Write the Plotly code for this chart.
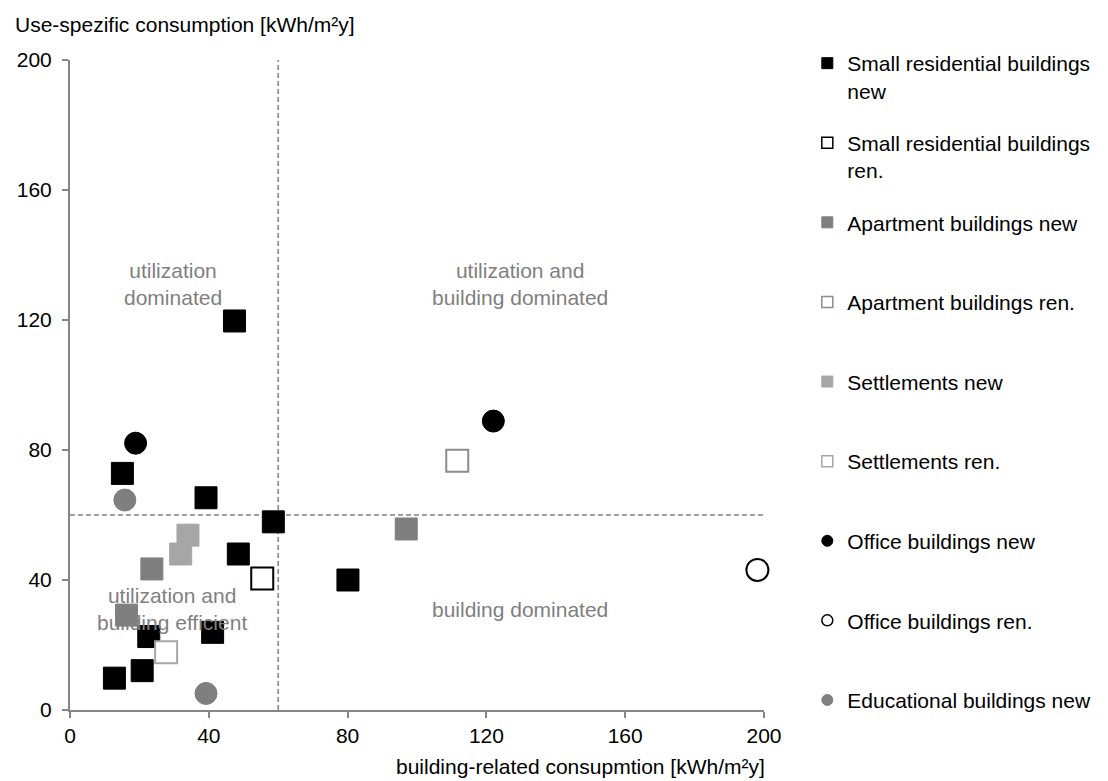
import plotly.graph_objects as go

# ---------------- data ----------------
small_res_new_x = [47.4, 15.1, 39.2, 58.6, 48.5, 80.1, 22.7, 41.1, 20.8, 12.8]
small_res_new_y = [119.7, 72.8, 65.3, 57.9, 48.0, 40.0, 22.6, 23.9, 12.1, 9.8]
small_res_ren_x = [55.4]
small_res_ren_y = [40.5]
apartment_new_x = [23.6, 16.3, 96.9]
apartment_new_y = [43.4, 29.2, 55.7]
apartment_ren_x = [111.6]
apartment_ren_y = [76.7]
settlements_new_x = [34.0, 31.9]
settlements_new_y = [53.8, 48.0]
settlements_ren_x = [27.7]
settlements_ren_y = [17.8]
office_new_x = [18.9, 122.0]
office_new_y = [82.1, 88.9]
office_ren_x = [198.1]
office_ren_y = [43.1]
educational_new_x = [15.8, 39.2]
educational_new_y = [64.6, 5.1]

threshold_x = 60
threshold_y = 60
axis_min = 0
axis_max = 200
tick_values = [0, 40, 80, 120, 160, 200]

x_title = "building-related consupmtion [kWh/m²y]"
y_title = "Use-spezific consumption [kWh/m²y]"
quadrant_labels = [
    ("utilization<br>dominated", 29.8, 131.0),
    ("utilization and<br>building dominated", 129.6, 131.0),
    ("building dominated", 129.6, 31.0),
    ("utilization and<br>building efficient", 29.5, 31.0),
]

# ---------------- styles ----------------
BLACK = "#000000"
GRAY = "#7F7F7F"
LIGHT = "#A6A6A6"
AXIS = "#868686"
FONT = "Liberation Sans, Arial, sans-serif"
FS = 21
PW, PH, PL, PT = 705, 650, 70, 60   # plot area size / offsets (px)

NB = "<br>\u00a0"
series = [
    ("Small residential buildings<br>new", small_res_new_x, small_res_new_y,
     "square", BLACK, BLACK, 1, "legend"),
    ("Small residential buildings<br>ren.", small_res_ren_x, small_res_ren_y,
     "square", "#FFFFFF", BLACK, 2, "legend"),
    ("Apartment buildings new" + NB, apartment_new_x, apartment_new_y,
     "square", GRAY, GRAY, 1, "legend"),
    ("Apartment buildings ren." + NB, apartment_ren_x, apartment_ren_y,
     "square", "#FFFFFF", "#8C8C8C", 2, "legend"),
    ("Settlements new", settlements_new_x, settlements_new_y,
     "square", LIGHT, LIGHT, 1, "legend"),
    ("Settlements ren." + NB, settlements_ren_x, settlements_ren_y,
     "square", "#FFFFFF", LIGHT, 2, "legend2"),
    ("Office buildings new" + NB, office_new_x, office_new_y,
     "circle", BLACK, BLACK, 1, "legend2"),
    ("Office buildings ren." + NB, office_ren_x, office_ren_y,
     "circle", "#FFFFFF", BLACK, 2, "legend2"),
    ("Educational buildings new", educational_new_x, educational_new_y,
     "circle", GRAY, GRAY, 1, "legend2"),
]

fig = go.Figure()

# threshold dashed lines
for xs, ys in (([axis_min, axis_max], [threshold_y, threshold_y]),
               ([threshold_x, threshold_x], [axis_min, axis_max])):
    fig.add_trace(go.Scatter(
        x=xs, y=ys, mode="lines",
        line=dict(color="#808080", width=1.5, dash="5px,3px"),
        showlegend=False, hoverinfo="skip"))

# data markers
for name, xs, ys, sym, fill, edge, lw, lg in series:
    fig.add_trace(go.Scatter(
        x=xs, y=ys, mode="markers", name=name.replace(NB, ""),
        showlegend=False, cliponaxis=False,
        marker=dict(symbol=sym, size=22, color=fill,
                    line=dict(color=edge, width=lw))))

# legend entries (small symbols)
for i, (name, xs, ys, sym, fill, edge, lw, lg) in enumerate(series):
    fig.add_trace(go.Scatter(
        x=[None], y=[None], mode="markers", name=name, legendgroup=f"g{i}",
        legend=lg,
        marker=dict(symbol=sym, size=11, color=fill,
                    line=dict(color=edge, width=1.5 if lw > 1 else 1))))

annotations = []
for text, ax, ay in quadrant_labels:
    annotations.append(dict(x=ax, y=ay, xref="x", yref="y", text=text,
                            showarrow=False, align="center",
                            font=dict(family=FONT, size=FS, color=GRAY)))
annotations.append(dict(x=(12 - PL) / PW, y=1 + (PT - 24) / PH,
                        xref="paper", yref="paper",
                        xanchor="left", yanchor="middle", text=y_title,
                        showarrow=False,
                        font=dict(family=FONT, size=FS, color=BLACK)))
annotations.append(dict(x=(778 - PL) / PW, y=-(766 - PT - PH) / PH,
                        xref="paper", yref="paper",
                        xanchor="right", yanchor="middle", text=x_title,
                        showarrow=False,
                        font=dict(family=FONT, size=FS, color=BLACK)))

axis_common = dict(
    range=[axis_min, axis_max], tickvals=tick_values,
    showgrid=False, zeroline=False, showline=True,
    linecolor=AXIS, linewidth=2, ticks="outside", ticklen=6,
    tickcolor=AXIS, tickwidth=2,
    tickfont=dict(family=FONT, size=FS, color=BLACK),
    fixedrange=True,
)

legend_common = dict(
    xanchor="left", x=(819 - PL) / PW, yanchor="top",
    font=dict(family=FONT, size=FS, color=BLACK),
    tracegroupgap=22, valign="top", itemwidth=30,
    bgcolor="rgba(0,0,0,0)", borderwidth=0,
)

fig.update_layout(
    width=1108, height=781,
    margin=dict(l=PL, r=1108 - PL - PW, t=PT, b=781 - PT - PH),
    paper_bgcolor="white", plot_bgcolor="white",
    xaxis=dict(**axis_common),
    yaxis=dict(**axis_common, ticklabelstandoff=6),
    annotations=annotations,
    showlegend=True,
    legend=dict(**legend_common, y=1 + (PT - 43) / PH),
    legend2=dict(**legend_common, y=1 - (441 - PT) / PH),
    font=dict(family=FONT, size=FS, color=BLACK),
)

fig.write_html("out.html", config={"displayModeBar": False},
               post_script="document.body.style.margin='0px';")
